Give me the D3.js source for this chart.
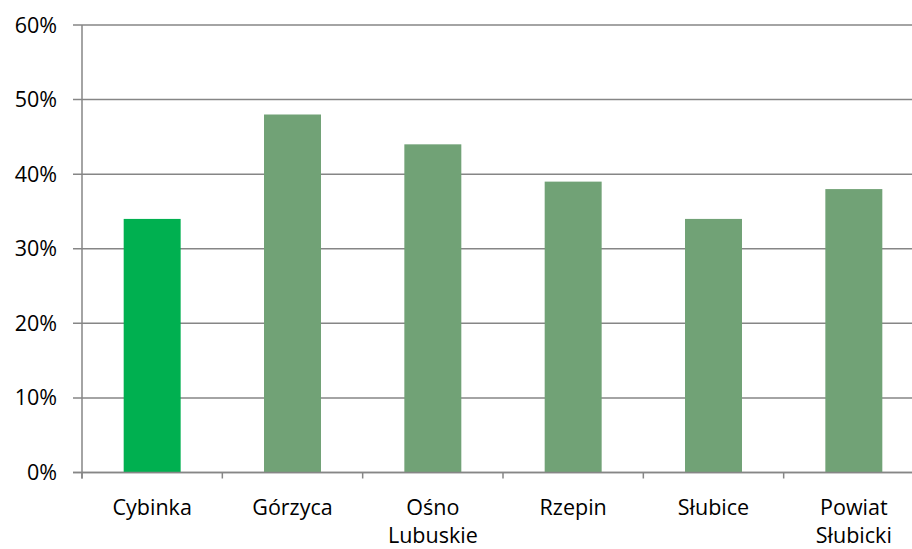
<!DOCTYPE html>
<html><head><meta charset="utf-8">
<script src="https://cdn.jsdelivr.net/npm/d3@7"></script>
<style>body{margin:0;background:#fff}svg{display:block}</style>
</head><body>
<svg id="c" width="912" height="549"></svg>
<script>
const categories = [["Cybinka"],["Górzyca"],["Ośno","Lubuskie"],["Rzepin"],["Słubice"],["Powiat","Słubicki"]];
const values = [0.34, 0.48, 0.44, 0.39, 0.34, 0.38];
const highlight = [true, false, false, false, false, false];
const yTicks = [0, 0.1, 0.2, 0.3, 0.4, 0.5, 0.6];

(function () {
const svg = d3.select("#c");
const mLeft = 82, mRight = 924, mTop = 25, mBottom = 472.5;
const font = "'Open Sans', sans-serif";
const fs = 21.5;
const x = d3.scaleBand().domain(d3.range(categories.length)).range([mLeft, mRight]).paddingInner(0.594).paddingOuter(0.297);
const y = d3.scaleLinear().domain([0, 0.6]).range([mBottom, mTop]);
const gridColor = "#868686";

svg.append("g").selectAll("line").data(yTicks).join("line")
  .attr("x1", mLeft - 9).attr("x2", 912)
  .attr("y1", d => y(d)).attr("y2", d => y(d))
  .attr("stroke", gridColor).attr("stroke-width", 1.5);

svg.append("g").selectAll("text").data(yTicks).join("text")
  .attr("x", 57).attr("y", d => y(d)).attr("dy", "0.35em")
  .attr("text-anchor", "end").attr("font-family", font).attr("font-size", fs).attr("fill", "#000")
  .text(d => d3.format(".0%")(d));

svg.append("line").attr("x1", mLeft).attr("x2", mLeft).attr("y1", mTop).attr("y2", mBottom + 6)
  .attr("stroke", gridColor).attr("stroke-width", 1.5);

const bounds = d3.range(categories.length + 1).map(i => mLeft + i * x.step());
svg.append("g").selectAll("line").data(bounds).join("line")
  .attr("x1", d => d).attr("x2", d => d).attr("y1", mBottom).attr("y2", mBottom + 6)
  .attr("stroke", gridColor).attr("stroke-width", 1.5);

svg.append("g").selectAll("rect").data(values).join("rect")
  .attr("x", (d, i) => x(i)).attr("width", x.bandwidth())
  .attr("y", d => y(d)).attr("height", d => y(0) - y(d))
  .attr("fill", (d, i) => highlight[i] ? "#00B050" : "#71A276");

svg.append("line").attr("x1", mLeft - 9).attr("x2", 912).attr("y1", y(0)).attr("y2", y(0))
  .attr("stroke", gridColor).attr("stroke-width", 1.5);

const lab = svg.append("g").selectAll("text").data(categories).join("text")
  .attr("text-anchor", "middle").attr("font-family", font).attr("font-size", fs).attr("fill", "#000")
  .attr("x", (d, i) => x(i) + x.bandwidth() / 2).attr("y", 515);
lab.selectAll("tspan").data(d => d).join("tspan")
  .attr("x", function () { return d3.select(this.parentNode).attr("x"); })
  .attr("dy", (d, i) => i === 0 ? 0 : 28)
  .text(d => d);
})();
</script>
</body></html>
